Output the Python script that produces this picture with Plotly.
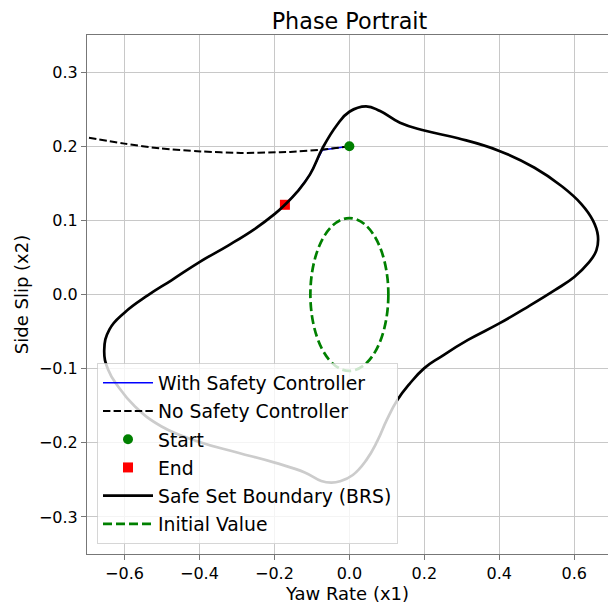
import plotly.graph_objects as go

# Safe set boundary (backward reachable set), traced as a closed loop
BRS_X = [-0.172, -0.140, -0.105, -0.072, -0.034, 0.000, 0.0445, 0.082, 0.135,
         0.200, 0.290, 0.400, 0.494, 0.565, 0.619, 0.650, 0.663, 0.659, 0.636,
         0.600, 0.548, 0.476, 0.400, 0.3165, 0.245, 0.200, 0.160, 0.128, 0.1005,
         0.0744, 0.0451, 0.0093, -0.0248, -0.048, -0.075, -0.119, -0.199, -0.297, -0.400,
         -0.501, -0.572, -0.617, -0.6435, -0.654, -0.640, -0.600, -0.537, -0.4747, -0.400,
         -0.3235, -0.252, -0.199, -0.172]
BRS_Y = [0.121, 0.138, 0.162, 0.197, 0.228, 0.2465, 0.2537, 0.2474, 0.2317,
         0.2212, 0.2107, 0.1937, 0.171, 0.1467, 0.122, 0.0997, 0.0796, 0.0595, 0.0416,
         0.0236, 0.0058, -0.0166, -0.039, -0.0613, -0.0837, -0.0993, -0.1209, -0.1424, -0.1685,
         -0.1979, -0.2234, -0.2434, -0.2519, -0.2537, -0.2515, -0.240, -0.2268, -0.2134, -0.199,
         -0.178, -0.151, -0.124, -0.1016, -0.0748, -0.047, -0.0245, -0.0009, 0.0192, 0.0438,
         0.066, 0.0886, 0.1087, 0.121]

# Trajectory with the safety controller active
SAFE_X = [0.000, -0.036, -0.072, -0.105, -0.140, -0.172]
SAFE_Y = [0.200, 0.1975, 0.195, 0.162, 0.138, 0.121]

# Trajectory without the safety controller
FREE_X = [0.000, -0.070, -0.158, -0.184, -0.290, -0.397, -0.504, -0.600, -0.700]
FREE_Y = [0.200, 0.1955, 0.1923, 0.192, 0.191, 0.193, 0.197, 0.2035, 0.212]

START = (0.0, 0.2)
END = (-0.172, 0.121)

# Initial value set (ellipse centred at the origin)
INIT_CENTER = (0.0, 0.0)
INIT_RX = 0.104
INIT_RY = 0.103

FONT = "DejaVu Sans"

fig = go.Figure()

fig.add_trace(go.Scatter(
    x=SAFE_X, y=SAFE_Y, mode="lines", name="With Safety Controller",
    line=dict(color="blue", width=1.6), legendgroup="a"))
fig.add_trace(go.Scatter(
    x=FREE_X, y=FREE_Y, mode="lines", name="No Safety Controller",
    line=dict(color="black", width=2, dash="7.4px,3.2px", shape="spline", smoothing=0.8),
    legendgroup="b"))
fig.add_trace(go.Scatter(
    x=[START[0]], y=[START[1]], mode="markers", name="Start",
    marker=dict(color="green", size=10, symbol="circle"), legendgroup="c"))
fig.add_trace(go.Scatter(
    x=[END[0]], y=[END[1]], mode="markers", name="End",
    marker=dict(color="red", size=10, symbol="square"), legendgroup="d"))
fig.add_trace(go.Scatter(
    x=BRS_X, y=BRS_Y, mode="lines", name="Safe Set Boundary (BRS)",
    line=dict(color="black", width=2.7, shape="spline", smoothing=1.3),
    legendgroup="e"))
# legend entry for the initial-value ellipse (drawn as a layout shape)
fig.add_trace(go.Scatter(
    x=[None], y=[None], mode="lines", name="Initial Value",
    line=dict(color="green", width=2.7, dash="9px,4px"), legendgroup="f"))

fig.add_shape(
    type="circle", xref="x", yref="y",
    x0=INIT_CENTER[0] - INIT_RX, x1=INIT_CENTER[0] + INIT_RX,
    y0=INIT_CENTER[1] - INIT_RY, y1=INIT_CENTER[1] + INIT_RY,
    line=dict(color="green", width=2.7, dash="9px,4px"), layer="above")

axis_common = dict(
    showgrid=True, gridcolor="#c8c8c8", gridwidth=1,
    zeroline=False, showline=True, linecolor="#777", linewidth=1,
    ticks="outside", ticklen=5, tickcolor="#777", tickwidth=1,
    tickfont=dict(family=FONT, size=16, color="black"),
    tickformat=".1f",
)

fig.update_layout(
    width=608, height=604,
    margin=dict(l=87, r=0, t=35, b=50),
    paper_bgcolor="white", plot_bgcolor="white",
    font=dict(family=FONT, color="black"),
    title=dict(text="Phase Portrait", font=dict(family=FONT, size=22.3, color="black"),
               x=349.5 / 608, xref="container", xanchor="center",
               y=1 - 21 / 604, yref="container", yanchor="middle"),
    xaxis=dict(range=[-0.7, 0.69], tick0=-0.6, dtick=0.2, mirror=True,
               title=dict(text="Yaw Rate (x1)", font=dict(family=FONT, size=18), standoff=4),
               **axis_common),
    yaxis=dict(range=[-0.35, 0.35], tick0=0, dtick=0.1, mirror=False,
               title=dict(text="Side Slip (x2)", font=dict(family=FONT, size=18), standoff=5),
               **axis_common),
    legend=dict(
        x=10 / 521, y=10 / 519, xanchor="left", yanchor="bottom",
        bgcolor="rgba(255,255,255,0.8)", bordercolor="rgba(204,204,204,0.8)", borderwidth=1,
        font=dict(family=FONT, size=18.8, color="black"),
        traceorder="grouped", tracegroupgap=0.8, itemwidth=50,
    ),
    showlegend=True,
)

fig.write_html("out.html")
